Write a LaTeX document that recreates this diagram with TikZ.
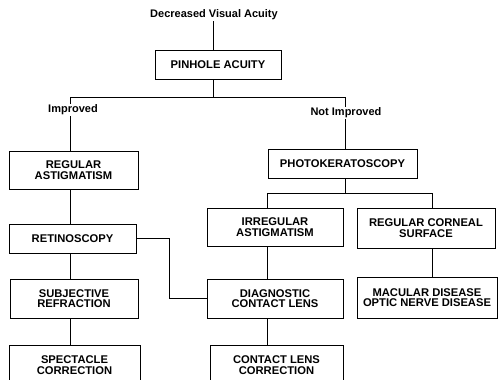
\documentclass[tikz,border=0pt]{standalone}
\usepackage{fontspec}
\setmainfont{Liberation Sans}
\begin{document}
\begin{tikzpicture}[x=1pt,y=-1pt,
  box/.style={draw, line width=0.7pt, align=center, inner sep=0pt,
    font=\fontsize{11.2}{10.6}\selectfont\bfseries},
  lbl/.style={font=\fontsize{11}{11}\selectfont\bfseries, inner sep=1pt},
  conn/.style={line width=0.7pt}]
\useasboundingbox (0,0) rectangle (498,380);
\clip (0,0) rectangle (498,380);
% column coordinates
\coordinate (cL) at (70,0);
\coordinate (cP) at (213,0);
\coordinate (cN) at (345,0);
\coordinate (cM) at (267,0);
\coordinate (cR) at (432,0);
\coordinate (br1) at (0,97);
\coordinate (br2) at (0,193);
% title
\node[lbl] (title) at (214,15) {Decreased Visual Acuity};
% boxes
\node[box, minimum width=126pt, minimum height=29pt] (pin) at (218,64.5) {PINHOLE ACUITY};
\node[box, minimum width=129pt, minimum height=38pt] (regast) at (73.5,170) {REGULAR\\ASTIGMATISM};
\node[box, minimum width=127pt, minimum height=29pt] (retino) at (72.5,238.5) {RETINOSCOPY};
\node[box, minimum width=128pt, minimum height=39pt] (subj) at (74,298.5) {SUBJECTIVE\\REFRACTION};
\node[box, minimum width=131pt, minimum height=40pt] (spec) at (74.5,365) {SPECTACLE\\CORRECTION};
\node[box, minimum width=149pt, minimum height=29pt] (photo) at (342.5,163.5) {PHOTOKERATOSCOPY};
\node[box, minimum width=136pt, minimum height=38pt] (irreg) at (275,227) {IRREGULAR\\ASTIGMATISM};
\node[box, minimum width=138pt, minimum height=40pt] (regcor) at (426,228) {REGULAR CORNEAL\\SURFACE};
\node[box, minimum width=136pt, minimum height=39pt] (diag) at (275,298.5) {DIAGNOSTIC\\CONTACT LENS};
\node[box, minimum width=140pt, minimum height=41pt] (macu) at (427,297.5) {MACULAR DISEASE\\OPTIC NERVE DISEASE};
\node[box, minimum width=133pt, minimum height=40pt] (clc) at (276.5,365) {CONTACT LENS\\CORRECTION};
% connectors
\draw[conn] (cP |- title.south) -- (cP |- pin.north);
\draw[conn] (cP |- pin.south) -- (cP |- br1);
\draw[conn] (cL |- br1) -- (cN |- br1);
\draw[conn] (cL |- br1) -- (cL |- regast.north);
\draw[conn] (cN |- br1) -- (cN |- photo.north);
\draw[conn] (cN |- photo.south) -- (cN |- br2);
\draw[conn] (cM |- br2) -- (cR |- br2);
\draw[conn] (cM |- br2) -- (cM |- irreg.north);
\draw[conn] (cR |- br2) -- (cR |- regcor.north);
\draw[conn] (cL |- regast.south) -- (cL |- retino.north);
\draw[conn] (cL |- retino.south) -- (cL |- subj.north);
\draw[conn] (cL |- subj.south) -- (cL |- spec.north);
\draw[conn] (cM |- irreg.south) -- (cM |- diag.north);
\draw[conn] (cM |- diag.south) -- (cM |- clc.north);
\draw[conn] (cR |- regcor.south) -- (cR |- macu.north);
\coordinate (jog) at (169,0);
\draw[conn] (retino.east) -- (jog |- retino.east) -- (jog |- diag.west) -- (diag.west);
% branch labels
\node[lbl, fill=white] (imp) at (73,110) {Improved};
\node[lbl, fill=white] (notimp) at (346,113) {Not Improved};
\end{tikzpicture}
\end{document}
